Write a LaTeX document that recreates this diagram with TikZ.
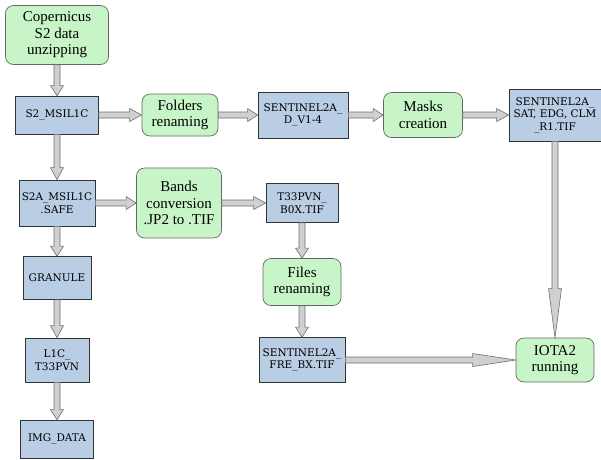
\documentclass[tikz,border=0pt]{standalone}
\usepackage{fontspec}
\setmainfont{Liberation Serif}
\newfontfamily\boxfont{DejaVu Serif}
\usepackage{tikz}
\usetikzlibrary{calc}

\definecolor{filebox}{HTML}{B9CDE5}
\definecolor{stepfill}{HTML}{C8F5C8}
\definecolor{arrowfill}{HTML}{D0D0D0}
\definecolor{arrowline}{HTML}{6E6E6E}

\tikzset{
  folder/.style={draw=black!80, fill=filebox, line width=0.7pt, align=center, inner sep=0pt,
    font=\boxfont\fontsize{10.5}{12.5}\selectfont},
  process/.style={draw=black!60, fill=stepfill, rounded corners=8pt, line width=0.7pt,
    align=center, inner sep=0pt, font=\fontsize{15}{16.5}\selectfont},
  blockarrow/.style={draw=arrowline, fill=arrowfill, line width=0.6pt,
    to path={($(\tikztotarget)!#1!(\tikztostart)$) coordinate (ab)
      ($(\tikztostart)!3pt!90:(\tikztotarget)$)
      -- ($(ab)!3pt!90:(\tikztotarget)$) -- ($(ab)!6.5pt!90:(\tikztotarget)$)
      -- (\tikztotarget)
      -- ($(ab)!6.5pt!-90:(\tikztotarget)$) -- ($(ab)!3pt!-90:(\tikztotarget)$)
      -- ($(\tikztostart)!3pt!-90:(\tikztotarget)$) -- cycle}},
  blockarrow/.default=10pt
}

\begin{document}
\begin{tikzpicture}[x=1pt,y=1pt]
\useasboundingbox (0,0) rectangle (601,-459);
% processing steps
\node[process, minimum width=103pt, minimum height=59pt] (cop) at (57,-35) {Copernicus\\S2 data\\unzipping};
\node[process, minimum width=76pt, minimum height=42pt] (folders) at (180,-115) {Folders\\renaming};
\node[process, minimum width=79pt, minimum height=45pt] (masks) at (423,-115) {Masks\\creation};
\node[process, minimum width=85pt, minimum height=70pt] (bands) at (179,-203) {Bands\\conversion\\.JP2 to .TIF};
\node[process, minimum width=78pt, minimum height=47pt] (files) at (302,-282) {Files\\renaming};
\node[process, minimum width=78pt, minimum height=44pt] (iota) at (555,-360) {IOTA2\\running};
% folders and files
\node[folder, minimum width=83pt, minimum height=38pt] (s2msi) at (57,-115) {S2\_MSIL1C};
\node[folder, minimum width=90pt, minimum height=46pt] (sentd) at (303,-115) {SENTINEL2A\_\\D\_V1-4};
\node[folder, minimum width=92pt, minimum height=52pt] (sentsat) at (555,-115) {SENTINEL2A\_\\SAT, EDG, CLM\\\_R1.TIF};
\node[folder, minimum width=76pt, minimum height=46pt] (s2asafe) at (57,-203) {S2A\_MSIL1C\\.SAFE};
\node[folder, minimum width=72pt, minimum height=39pt] (t33) at (302,-203) {T33PVN\_\\B0X.TIF};
\node[folder, minimum width=68pt, minimum height=43pt] (granule) at (57,-278) {GRANULE};
\node[folder, minimum width=64pt, minimum height=44pt] (l1c) at (57,-360) {L1C\_\\T33PVN};
\node[folder, minimum width=73pt, minimum height=38pt] (imgdata) at (57,-439) {IMG\_DATA};
\node[folder, minimum width=86pt, minimum height=45pt] (sentfre) at (302,-360) {SENTINEL2A\_\\FRE\_BX.TIF};
% arrows
\draw[blockarrow] (cop.south) to (s2msi.north);
\draw[blockarrow=12pt] (s2msi.east) to (folders.west);
\draw[blockarrow] (folders.east) to (sentd.west);
\draw[blockarrow] (sentd.east) to (masks.west);
\draw[blockarrow=12pt] (masks.east) to (sentsat.west);
\draw[blockarrow=12pt] (s2msi.south) to (s2asafe.north);
\draw[blockarrow] (s2asafe.east) to (bands.west);
\draw[blockarrow=12pt] (bands.east) to (t33.west);
\draw[blockarrow] (s2asafe.south) to (granule.north);
\draw[blockarrow=12pt] (granule.south) to (l1c.north);
\draw[blockarrow] (l1c.south) to (imgdata.north);
\draw[blockarrow] (t33.south) to (files.north);
\draw[blockarrow] (files.south) to (sentfre.north);
\draw[blockarrow=43pt] (sentfre.east) to (iota.west);
\draw[blockarrow=49pt] (sentsat.south) to (iota.north);
\end{tikzpicture}
\end{document}
